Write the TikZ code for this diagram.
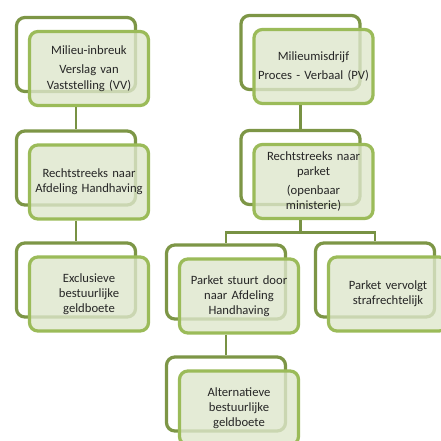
\documentclass[tikz,border=0pt]{standalone}
\usepackage{fontspec}
\setmainfont{Carlito}
\usepackage{tikz}
\usetikzlibrary{positioning,backgrounds}
\definecolor{frameback}{RGB}{125,150,70}
\definecolor{framefront}{RGB}{155,187,89}
\definecolor{cardfill}{RGB}{222,231,204}
\definecolor{linkgreen}{RGB}{120,146,68}

\begin{document}
\begin{tikzpicture}[
  x=0.025cm, y=-0.025cm,
  font=\fontsize{9}{10.8}\selectfont,
  back/.style={draw=frameback, line width=2.3pt, rounded corners=6pt, fill=white, minimum width=2.975cm, minimum height=1.85cm, inner sep=0pt},
  card/.style={draw=framefront, line width=2.3pt, rounded corners=6pt, fill=cardfill, fill opacity=0.8, text opacity=1, text=black!85, align=center, text width=2.95cm, minimum width=2.975cm, minimum height=1.85cm, inner sep=0pt},
  link/.style={draw=linkgreen, line width=2pt}
]
\useasboundingbox (0,0) rectangle (441,441);

% front cards
\node[card] (vv) at (89,68.5) {Milieu-inbreuk\\[3pt]Verslag van\\Vaststelling (VV)};
\node[card] (hh) at (89,182) {Rechtstreeks naar\\Afdeling Handhaving};
\node[card] (excl) at (89,294) {Exclusieve\\bestuurlijke\\geldboete};

\node[card] (pv) at (313.5,66.5) {Milieumisdrijf\\[3pt]Proces - Verbaal (PV)};
\node[card] (park) at (313.5,181.5) {Rechtstreeks naar\\parket\\[3pt](openbaar\\ministerie)};
\node[card] (door) at (239,296) {Parket stuurt door\\naar Afdeling\\Handhaving};
\node[card] (strafr) at (388,294) {Parket vervolgt\\strafrechtelijk};
\node[card] (alt) at (239,408) {Alternatieve\\bestuurlijke\\geldboete};

% back frames
\begin{scope}[on background layer]
\foreach \c in {vv,hh,excl,pv,park,door,strafr,alt}
  \node[back] (\c back) at ([shift={(-13,-14)}]\c.center) {};
\end{scope}

\draw[link] (vvback.center |- vv.south) -- (hhback.north);
\draw[link] (hhback.center |- hh.south) -- (exclback.north);
\draw[link] (pvback.center |- pv.south) -- (parkback.north);
\draw[link] (parkback.center |- park.south) -- ++(0,12) -| (doorback.north);
\draw[link] (parkback.center |- park.south) -- ++(0,12) -| (strafrback.north);
\draw[link] (doorback.center |- door.south) -- (altback.north);

\end{tikzpicture}
\end{document}
